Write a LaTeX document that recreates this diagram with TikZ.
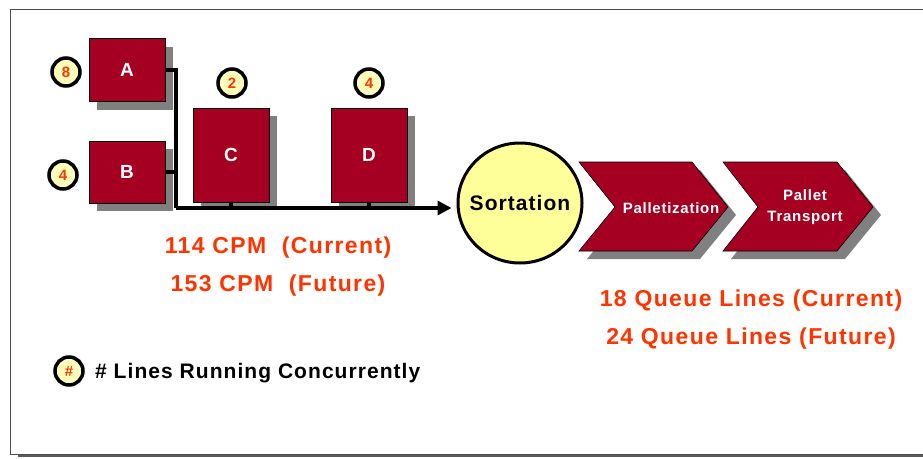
\documentclass[tikz,border=0pt]{standalone}
\usepackage{fontspec}
\setmainfont{Liberation Sans}
\newfontfamily\lsa[LetterSpace=6]{Liberation Sans}
\newfontfamily\lsb[LetterSpace=5]{Liberation Sans}
\newfontfamily\lsc[LetterSpace=5]{Liberation Sans}
\usetikzlibrary{shapes.geometric,shadows,patterns,arrows.meta}
\definecolor{boxred}{HTML}{A50021}
\definecolor{shade}{HTML}{808080}
\definecolor{lyel}{HTML}{FFFF99}
\definecolor{ored}{HTML}{FF3300}
\newcommand{\fs}[1]{\fontsize{#1}{#1}\selectfont}
\tikzset{
  unit/.style={draw=black, line width=0.6pt, fill=boxred, text=white, font=\lsb\bfseries\fs{19},
     drop shadow={shadow xshift=8pt, shadow yshift=-8pt, fill=shade, opacity=1}},
  count/.style={circle, draw=black, line width=3.5pt, minimum size=28pt, inner sep=0pt,
     preaction={fill=lyel}, pattern=north east lines, pattern color=white,
     text=ored, font=\lsb\bfseries\fs{15}},
  chevfill/.style={draw=black, line width=0.6pt, fill=boxred},
  chevshade/.style={fill=shade},
  chevtext/.style={text=white, font=\lsb\bfseries\fs{15}, align=center, inner sep=0pt},
  bus/.style={line width=3.3pt, draw=black},
  note/.style={text=ored, font=\lsa\bfseries\fs{23}, anchor=base, inner sep=0pt},
}
\begin{document}
\begin{tikzpicture}[x=1pt,y=-1pt]
\useasboundingbox (0,0) rectangle (923,458);
\begin{scope}
\clip (0,0) rectangle (923,458);
\fill[shade!70!black] (18,454) rectangle (940,457);
\draw[black!70, line width=1pt] (940,9) -- (10,9) -- (10,454) -- (940,454);
\end{scope}

% unit boxes
\node[unit, minimum width=76pt, minimum height=63pt] (A) at (127,70) {A};
\node[unit, minimum width=76pt, minimum height=62pt] (B) at (127,172) {B};
\node[unit, minimum width=76pt, minimum height=94pt] (C) at (231,155) {C};
\node[unit, minimum width=76pt, minimum height=94pt] (D) at (369,155) {D};

% counts
\node[count] (nA) at (66,72) {8};
\node[count] (nB) at (63,175) {4};
\node[count] (nC) at (232,83) {2};
\node[count] (nD) at (369,83) {4};

% sortation
\node[ellipse, draw=black, line width=3pt, fill=lyel, minimum width=124pt, minimum height=120pt,
      inner sep=0pt] (S) at (520,203) {};
\node[font=\lsc\bfseries\fs{21}, inner sep=0pt] (St) at (S.center) {Sortation};

% chevrons
\fill[chevshade] (587,170) -- (700,170) -- (736,215) -- (700,259) -- (587,259) -- (623,215) -- cycle;
\filldraw[chevfill] (579,162) -- (692,162) -- (728,207) -- (692,251) -- (579,251) -- (615,207) -- cycle;
\node[chevtext] (P) at (671,208) {Palletization};
\fill[chevshade] (731,170) -- (845,170) -- (881,215) -- (845,259) -- (731,259) -- (766,215) -- cycle;
\filldraw[chevfill] (723,162) -- (837,162) -- (873,207) -- (837,251) -- (723,251) -- (758,207) -- cycle;
\node[chevtext] (T) at (805,207.5) {Pallet\\[6pt]Transport};

% bus
\coordinate (bx) at (176,208);
\draw[bus] (A.east) -- (A.east -| bx) -- (bx);
\draw[bus, -{Triangle[length=14pt,width=14pt]}] (bx) -- ([xshift=-5pt]S.west |- bx);
\draw[bus] (B.east) -- (B.east -| bx);
\draw[bus] (C.south) -- (C.south |- bx);
\draw[bus] (D.south) -- (D.south |- bx);

% notes
\node[note] (t1) at (278,253) {114 CPM\ \ (Current)};
\node[note] (t2) at (278,291) {153 CPM\ \ (Future)};
\node[note] (t3) at (751,306) {18 Queue Lines (Current)};
\node[note] (t4) at (751,344) {24 Queue Lines (Future)};

% legend
\node[count] (nL) at (69,371) {\#};
\node[anchor=west, inner sep=0pt, font=\lsb\bfseries\fs{21}] (L) at (95,373) {\# Lines Running Concurrently};
\end{tikzpicture}
\end{document}
